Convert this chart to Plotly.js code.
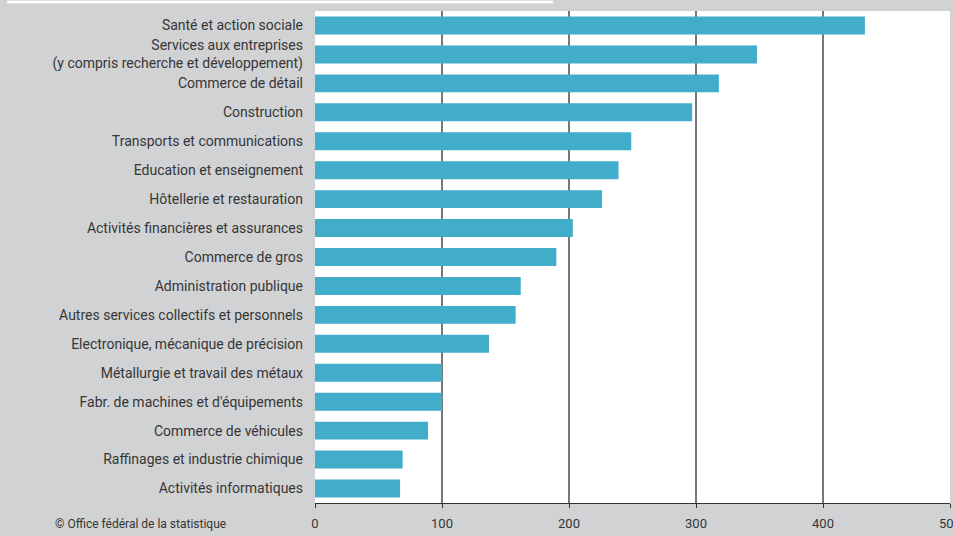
<!DOCTYPE html>
<html>
<head>
<meta charset="utf-8">
<script src="https://cdn.plot.ly/plotly-3.0.1.min.js"></script>
<style>html,body{margin:0;padding:0;background:#d1d2d4;}#chart{width:953px;height:536px;}</style>
</head>
<body>
<div id="chart"></div>
<script>
const categories = [
  "Santé et action sociale",
  "Services aux entreprises<br>(y compris recherche et développement)",
  "Commerce de détail",
  "Construction",
  "Transports et communications",
  "Education et enseignement",
  "Hôtellerie et restauration",
  "Activités financières et assurances",
  "Commerce de gros",
  "Administration publique",
  "Autres services collectifs et personnels",
  "Electronique, mécanique de précision",
  "Métallurgie et travail des métaux",
  "Fabr. de machines et d'équipements",
  "Commerce de véhicules",
  "Raffinages et industrie chimique",
  "Activités informatiques"
];
const values = [433, 348, 318, 297, 249, 239, 226, 203, 190, 162, 158, 137, 100, 100, 89, 69, 67];
const xTicks = [0, 100, 200, 300, 400, 500];
const gridTicks = [100, 200, 300, 400];
const sourceText = "© Office fédéral de la statistique";

const font = "Roboto, 'DejaVu Sans', sans-serif";

const trace = {
  type: "bar",
  orientation: "h",
  x: values,
  y: categories,
  marker: {color: "#41adca", line: {width: 0}},
  width: 0.62,
  hoverinfo: "none"
};

const layout = {
  width: 953,
  height: 536,
  margin: {l: 315, r: 3, t: 11, b: 33, pad: 0},
  paper_bgcolor: "#d1d2d4",
  plot_bgcolor: "#ffffff",
  font: {family: font, size: 13, color: "#363636"},
  showlegend: false,
  xaxis: {
    range: [0, 500],
    tickvals: gridTicks,
    showticklabels: false,
    showgrid: true,
    gridcolor: "#777777",
    gridwidth: 1.5,
    zeroline: false,
    showline: false,
    ticks: "",
    fixedrange: true
  },
  xaxis2: {
    overlaying: "x",
    matches: "x",
    anchor: "y",
    side: "bottom",
    range: [0, 500],
    tickvals: xTicks,
    ticktext: xTicks.map(String),
    showgrid: false,
    zeroline: false,
    showline: true,
    linecolor: "#333333",
    linewidth: 1,
    ticks: "outside",
    ticklen: 4,
    tickcolor: "#333333",
    ticklabelstandoff: 4,
    ticklabeloverflow: "allow",
    tickfont: {family: font, size: 13, color: "#363636"},
    fixedrange: true
  },
  yaxis: {
    type: "category",
    autorange: "reversed",
    showgrid: false,
    zeroline: false,
    showline: false,
    ticks: "",
    ticklabelstandoff: 11,
    tickfont: {family: font, size: 14, color: "#363636"},
    fixedrange: true
  },
  shapes: [
    {type: "line", xref: "paper", yref: "paper",
     x0: -0.485, x1: 0.375, y0: 1.0183, y1: 1.0183,
     line: {color: "#ffffff", width: 2.5}, layer: "above"}
  ],
  annotations: [
    {xref: "paper", yref: "paper", x: -0.412, y: -0.0427,
     xanchor: "left", yanchor: "middle", showarrow: false,
     text: sourceText, font: {family: font, size: 12, color: "#363636"}}
  ]
};

const axisCarrier = {type: "scatter", x: [], y: [], xaxis: "x2", yaxis: "y", hoverinfo: "none", showlegend: false};

Plotly.newPlot("chart", [trace, axisCarrier], layout, {displayModeBar: false, staticPlot: true});
</script>
</body>
</html>
